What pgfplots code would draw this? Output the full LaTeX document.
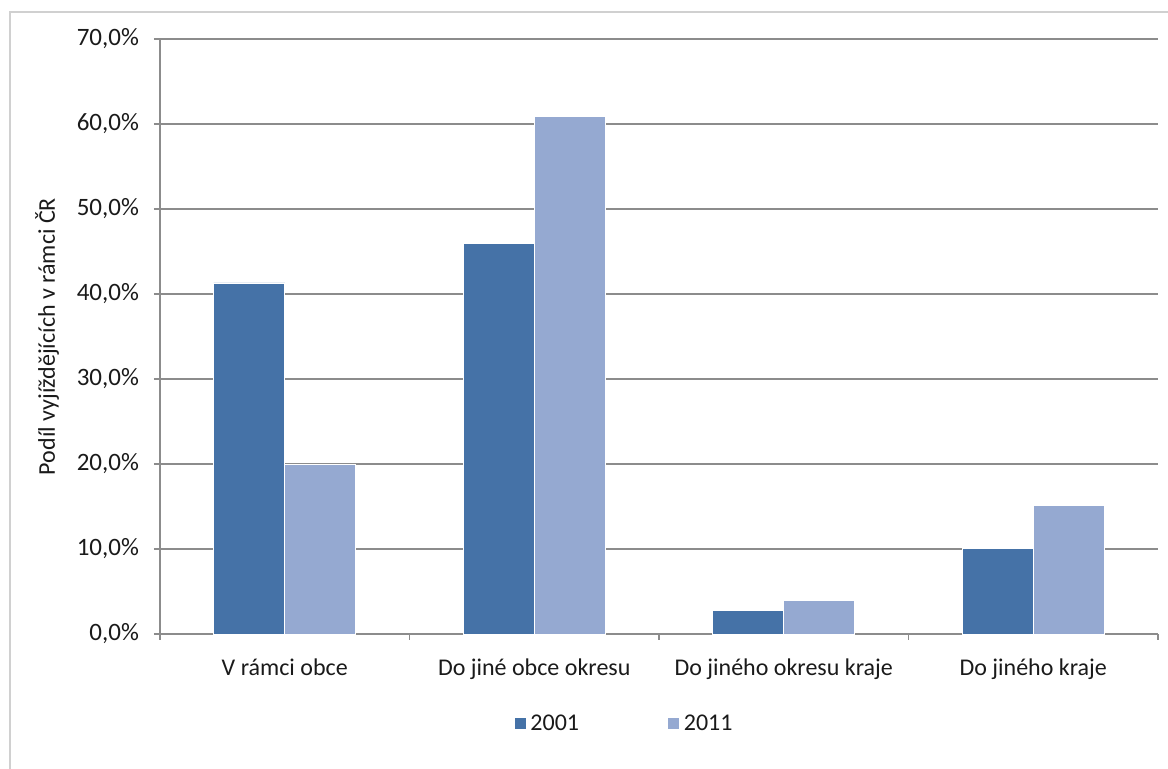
\documentclass[border=0pt]{standalone}
\usepackage{pgfplots}
\pgfplotsset{compat=1.18}
\usepackage{fontspec}
\setmainfont{Carlito}
\definecolor{c2001}{HTML}{4572A7}
\definecolor{c2011}{HTML}{95A9D1}
\definecolor{gridc}{HTML}{8C8C8C}
\definecolor{framec}{HTML}{D0D0D0}
\definecolor{txt}{HTML}{1A1A1A}
\begin{document}
\begin{tikzpicture}
\path[use as bounding box] (0,0) rectangle (584pt,-384.5pt);
\draw[framec, line width=0.8pt] (5pt,-6pt) rectangle (600pt,-400pt);
\begin{axis}[
  at={(80pt,-317pt)}, anchor=south west,
  scale only axis, width=499pt, height=297.5pt,
  ymin=0, ymax=70, ytick={0,10,...,70},
  xmin=-0.5, xmax=3.5,
  xtick={0,1,2,3},
  xticklabels={V rámci obce, Do jiné obce okresu, Do jiného okresu kraje, Do jiného kraje},
  minor xtick={-0.5,0.5,1.5,2.5,3.5},
  major x tick style={draw=none},
  minor tick length=3pt, major tick length=3pt,
  tick align=outside,
  tick style={gridc, line width=0.6pt},
  ymajorgrids, grid style={gridc, line width=0.6pt},
  axis x line*=bottom, axis y line*=left,
  axis line style={gridc, line width=0.6pt},
  /pgf/number format/assume math mode=true,
  yticklabel={\pgfmathprintnumber[fixed,fixed zerofill,precision=1,use comma]{\tick}\%},
  ticklabel style={font=\fontsize{12.5}{15}\selectfont, text=txt},
  xticklabel style={font=\fontsize{12}{14}\selectfont, yshift=-6pt},
  yticklabel style={xshift=-4pt},
  ylabel={Podíl vyjíždějících v rámci ČR},
  ylabel style={at={(axis description cs:-0.1132,0.5)}, anchor=center, font=\fontsize{12}{14}\selectfont, text=txt},
  legend style={at={(0.466,-0.151)}, anchor=center, draw=none, fill=none, legend columns=2,
    font=\fontsize{12}{14}\selectfont, text=txt,
    /tikz/every even column/.append style={column sep=42pt}},
  legend image code/.code={\fill[#1] (0pt,-3pt) rectangle (6pt,3pt);},
  clip=false,
]
\addplot[ybar, bar width=35.5pt, bar shift=-17.75pt, fill=c2001, draw=white, line width=0.4pt]
  coordinates {(0,41.3) (1,46.0) (2,2.75) (3,10.1)};
\addlegendentry{2001}
\addplot[ybar, bar width=35.5pt, bar shift=17.75pt, fill=c2011, draw=white, line width=0.4pt]
  coordinates {(0,20.0) (1,60.9) (2,3.95) (3,15.1)};
\addlegendentry{2011}
\end{axis}
\end{tikzpicture}
\end{document}
